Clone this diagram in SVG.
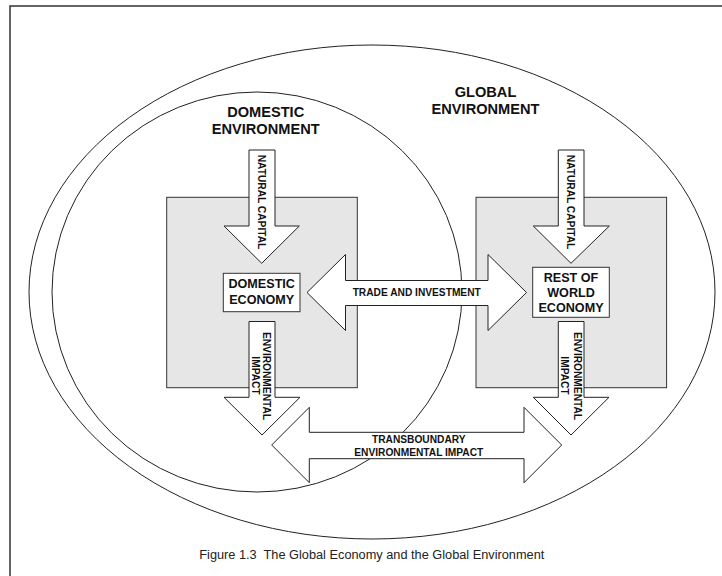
<svg xmlns="http://www.w3.org/2000/svg" width="722" height="576" viewBox="0 0 722 576">
<style>
.frame{fill:none;stroke:#333;stroke-width:1.5}
.env{fill:none;stroke:#222;stroke-width:1}
.box{fill:#e6e6e6;stroke:#333;stroke-width:1}
.arrow{fill:#fff;stroke:#222;stroke-width:1}
.ebox{fill:#fff;stroke:#333;stroke-width:1}
.t{font-family:"Liberation Sans",Arial,sans-serif;font-weight:bold;fill:#111;text-anchor:middle}
.title{font-size:14.6px}
.lbl{font-size:12.6px}
.al{font-size:10.2px}
.cap{font-family:"Liberation Sans",Arial,sans-serif;font-size:12px;fill:#222;text-anchor:middle}
</style>
<rect width="722" height="576" fill="#fff"/>
<path class="frame" d="M10,576 V6 H722"/>
<g id="global-environment">
  <ellipse class="env" cx="372" cy="292" rx="343" ry="247"/>
  <text class="t title" x="485.5" y="97.4">GLOBAL</text>
  <text class="t title" x="485.5" y="114.3">ENVIRONMENT</text>
</g>
<g id="domestic-environment">
  <ellipse class="env" cx="257" cy="292" rx="205" ry="200"/>
  <text class="t title" x="265.7" y="116.7">DOMESTIC</text>
  <text class="t title" x="265.7" y="134.3">ENVIRONMENT</text>
</g>
<g id="domestic-region">
  <rect class="box" x="166.7" y="197.3" width="190.6" height="190.4"/>
</g>
<g id="rest-of-world-region">
  <rect class="box" x="476" y="197.3" width="190.6" height="190.4"/>
</g>
<g id="connectors">
  <g id="natural-capital-domestic">
    <polygon class="arrow" points="249,150 275,150 275,226 299.3,226 261.7,263.3 224,226 249,226"/>
    <text class="t al" transform="translate(262,202) rotate(90)" y="3.6">NATURAL CAPITAL</text>
  </g>
  <g id="natural-capital-row">
    <polygon class="arrow" points="558.3,150 584,150 584,226 609.3,226 571,263.3 533.3,226 558.3,226"/>
    <text class="t al" transform="translate(571,202) rotate(90)" y="3.6">NATURAL CAPITAL</text>
  </g>
  <g id="env-impact-domestic">
    <polygon class="arrow" points="249,321.5 275,321.5 275,397.3 300,397.3 262,435 224,397.3 249,397.3"/>
    <text class="t al" transform="translate(267,376) rotate(90)" y="3.6">ENVIRONMENTAL</text>
    <text class="t al" transform="translate(256,375.5) rotate(90)" y="3.6">IMPACT</text>
  </g>
  <g id="env-impact-row">
    <polygon class="arrow" points="558.3,321.5 584,321.5 584,397.3 609,397.3 571,435 533.3,397.3 558.3,397.3"/>
    <text class="t al" transform="translate(577.5,376) rotate(90)" y="3.6">ENVIRONMENTAL</text>
    <text class="t al" transform="translate(565,375.5) rotate(90)" y="3.6">IMPACT</text>
  </g>
  <g id="trade-and-investment">
    <polygon class="arrow" points="307,292.5 345.5,254.5 345.5,280.5 488,280.5 488,254.5 526.5,292.5 488,330.5 488,305.5 345.5,305.5 345.5,330.5"/>
    <text class="t al" x="416.7" y="295.8">TRADE AND INVESTMENT</text>
  </g>
  <g id="transboundary-impact">
    <polygon class="arrow" points="271.7,445 309.3,407.3 309.3,432.3 524,432.3 524,407.3 561.7,445 524,482.7 524,458.7 309.3,458.7 309.3,482.7"/>
    <text class="t al" x="418.8" y="443.3">TRANSBOUNDARY</text>
    <text class="t al" x="418.8" y="455.7">ENVIRONMENTAL IMPACT</text>
  </g>
</g>
<g id="domestic-economy">
  <rect class="ebox" x="223.3" y="273.3" width="76.7" height="38.4"/>
  <text class="t lbl" x="261.7" y="288.3">DOMESTIC</text>
  <text class="t lbl" x="261.7" y="304">ECONOMY</text>
</g>
<g id="rest-of-world-economy">
  <rect class="ebox" x="532.7" y="267.3" width="76.6" height="50"/>
  <text class="t lbl" x="571" y="281.7">REST OF</text>
  <text class="t lbl" x="571" y="296.7">WORLD</text>
  <text class="t lbl" x="571" y="311.7">ECONOMY</text>
</g>
<text class="cap" x="371.8" y="558.5" textLength="345" lengthAdjust="spacingAndGlyphs" xml:space="preserve">Figure 1.3  The Global Economy and the Global Environment</text>
</svg>
